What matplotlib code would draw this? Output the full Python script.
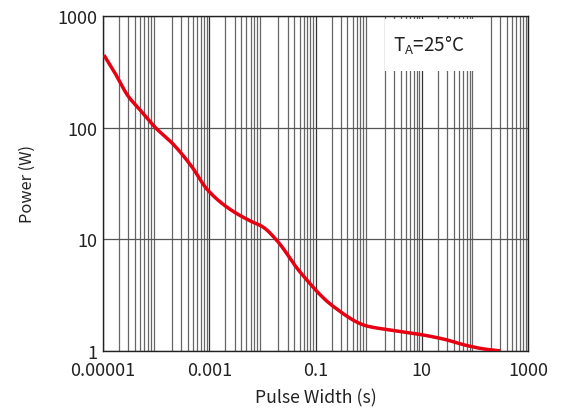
import matplotlib
matplotlib.use("Agg")
import matplotlib.pyplot as plt
import numpy as np
from matplotlib.ticker import LogLocator, FixedLocator, NullFormatter
from matplotlib.patches import Rectangle

plt.rcParams['font.family'] = ['Noto Sans CJK SC', 'DejaVu Sans']
plt.rcParams['font.weight'] = 'light'

pulse_width = [1.04e-5, 1.68e-5, 2.96e-5, 4.98e-5, 9.5e-5, 2.08e-4, 4.74e-4, 9.1e-4, 2.4e-3, 5.9e-3,
               1.02e-2, 1.9e-2, 5.1e-2, 0.21, 0.93, 2.5, 8.1, 25, 71.6, 150, 300]
power = [447, 308, 192, 144, 101, 71.3, 44.4, 28, 18.7, 14.6,
         12.9, 9.67, 5.1, 2.53, 1.67, 1.54, 1.42, 1.28, 1.115, 1.04, 1.0]

x_ticks = [1e-5, 1e-3, 1e-1, 1e1, 1e3]
x_labels = ["0.00001", "0.001", "0.1", "10", "1000"]
y_ticks = [1, 10, 100, 1000]
y_labels = ["1", "10", "100", "1000"]

fig = plt.figure(figsize=(5.69, 4.14), dpi=100)
ax = fig.add_axes([0.181, 0.150, 0.747, 0.809])
ax.set_xscale('log')
ax.set_yscale('log')
ax.set_xlim(1e-5, 1e3)
ax.set_ylim(1, 1000)

lx = np.log10(pulse_width)
ly = np.log10(power)
t = np.linspace(lx[0], lx[-1], 500)

def pchip(x, y, xn):
    x = np.asarray(x); y = np.asarray(y)
    h = np.diff(x); d = np.diff(y) / h
    m = np.zeros_like(y)
    for k in range(1, len(x) - 1):
        if d[k-1] * d[k] > 0:
            w1 = 2*h[k] + h[k-1]; w2 = h[k] + 2*h[k-1]
            m[k] = (w1 + w2) / (w1/d[k-1] + w2/d[k])
    m[0] = d[0]; m[-1] = d[-1]
    idx = np.clip(np.searchsorted(x, xn) - 1, 0, len(x) - 2)
    hh = h[idx]; s = (xn - x[idx]) / hh
    h00 = 2*s**3 - 3*s**2 + 1; h10 = s**3 - 2*s**2 + s
    h01 = -2*s**3 + 3*s**2; h11 = s**3 - s**2
    return h00*y[idx] + h10*hh*m[idx] + h01*y[idx+1] + h11*hh*m[idx+1]

yy = pchip(lx, ly, t)
ax.plot(10**t, 10**yy, color='#e60012', lw=2.5, zorder=3, solid_capstyle='butt')

ax.xaxis.set_major_locator(LogLocator(base=10, numticks=20))
ax.xaxis.set_minor_locator(LogLocator(base=10, subs=np.arange(2, 10), numticks=20))
ax.grid(True, which='major', axis='x', color='#333333', lw=0.9)
ax.grid(True, which='minor', axis='x', color='#666666', lw=0.9)
ax.yaxis.set_major_locator(FixedLocator(y_ticks))
ax.yaxis.set_minor_locator(FixedLocator([]))
ax.grid(True, which='major', axis='y', color='#555555', lw=0.9)

ax.set_xticks(x_ticks)
ax.set_xticklabels(x_labels)
ax.xaxis.set_minor_formatter(NullFormatter())
ax.set_yticks(y_ticks)
ax.set_yticklabels(y_labels)
ax.tick_params(which='both', length=0, labelsize=13, colors='#222222')
ax.tick_params(axis='x', pad=7)
ax.tick_params(axis='y', pad=4)
for s in ax.spines.values():
    s.set_color('#222222'); s.set_linewidth(1.0)

ax.set_xlabel("Pulse Width (s)", fontsize=12.7, color='#222222')
ax.xaxis.set_label_coords(0.5, -0.112)
ax.set_ylabel("Power (W)", fontsize=11.8, color='#222222')
ax.yaxis.set_label_coords(-0.158, 0.5)

ax.add_patch(Rectangle((0.6635, 0.836), 0.2165, 0.155, transform=ax.transAxes,
                       facecolor='white', edgecolor='none', zorder=2.5))
ax.text(0.683, 0.915, "T$_\\mathregular{A}$=25°C", transform=ax.transAxes, fontsize=13.5,
        va='center', ha='left', color='#222222', zorder=4)

fig.savefig("out.png", dpi=100)
